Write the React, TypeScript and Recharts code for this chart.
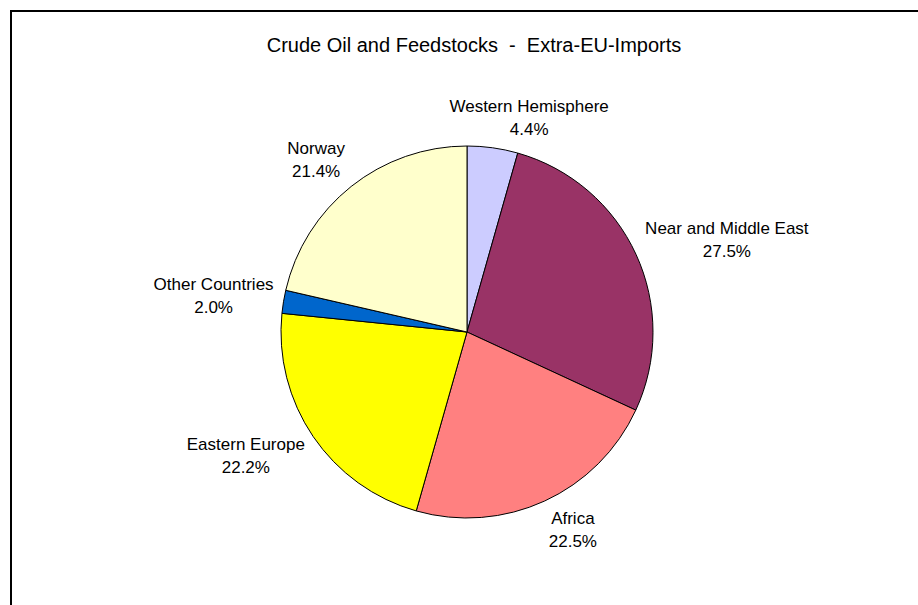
import { PieChart, Pie, Cell } from "recharts";

const REGIONS = [
  "Western Hemisphere",
  "Near and Middle East",
  "Africa",
  "Eastern Europe",
  "Other Countries",
  "Norway",
];
const SHARES = [4.4, 27.5, 22.5, 22.2, 2.0, 21.4];
const COLORS = ["#CCCCFF", "#993366", "#FF8080", "#FFFF00", "#0066CC", "#FFFFCC"];

const TITLE = "Crude Oil and Feedstocks  -  Extra-EU-Imports";
const FONT = '"Liberation Sans", Arial, sans-serif';
const LABEL_SIZE = 17;
const RADIAN = Math.PI / 180;

const data = REGIONS.map((name, i) => ({ name, value: SHARES[i] }));

let ctx: CanvasRenderingContext2D | null = null;
function textWidth(t: string, size: number) {
  if (!ctx) ctx = document.createElement("canvas").getContext("2d");
  if (!ctx) return t.length * size * 0.5;
  ctx.font = `${size}px ${FONT}`;
  return ctx.measureText(t).width;
}

// outside-end label, box pushed away from the pie like the spreadsheet does
function renderLabel(props: any) {
  const { cx, cy, midAngle, outerRadius, name, value } = props;
  const cos = Math.cos(-midAngle * RADIAN);
  const sin = Math.sin(-midAngle * RADIAN);
  const r = outerRadius + 10;
  const ax = cx + r * cos;
  const ay = cy + r * sin;
  const pct = `${Number(value).toFixed(1)}%`;
  const w = Math.max(textWidth(name, LABEL_SIZE), textWidth(pct, LABEL_SIZE));
  const h = 40;
  const fx = Math.sign(cos) * Math.min(1, Math.abs(cos) * 3.2);
  const fy = Math.sign(sin) * Math.min(1, Math.abs(sin) * 1.2);
  const x = ax + (fx * w) / 2;
  const y = ay + (fy * h) / 2;
  return (
    <text
      x={x}
      y={y}
      textAnchor="middle"
      fontFamily={FONT}
      fontSize={LABEL_SIZE}
      fill="#000"
    >
      <tspan x={x} y={y - 11.5} dominantBaseline="central">
        {name}
      </tspan>
      <tspan x={x} y={y + 11.5} dominantBaseline="central">
        {pct}
      </tspan>
    </text>
  );
}

export default function App() {
  return (
    <div
      style={{
        position: "absolute",
        left: 0,
        top: 0,
        width: 918,
        height: 605,
        overflow: "hidden",
        background: "#fff",
      }}
    >
      <div
        style={{
          position: "absolute",
          left: 10,
          top: 10,
          width: 940,
          height: 640,
          border: "2px solid #000",
        }}
      />
      <div
        style={{
          position: "absolute",
          left: 0,
          top: 33,
          width: 948,
          textAlign: "center",
          fontFamily: FONT,
          fontSize: 20,
          whiteSpace: "pre",
          lineHeight: "24px",
          color: "#000",
        }}
      >
        {TITLE}
      </div>
      <div style={{ position: "absolute", left: 0, top: 0 }}>
        <PieChart
          width={918}
          height={605}
          margin={{ top: 0, right: 0, bottom: 0, left: 0 }}
        >
          <Pie
            data={data}
            dataKey="value"
            nameKey="name"
            cx={467}
            cy={332}
            outerRadius={186}
            startAngle={90}
            endAngle={-270}
            stroke="#000"
            strokeWidth={1}
            labelLine={false}
            label={renderLabel}
            isAnimationActive={false}
          >
            {data.map((d, i) => (
              <Cell key={d.name} fill={COLORS[i]} />
            ))}
          </Pie>
        </PieChart>
      </div>
    </div>
  );
}
